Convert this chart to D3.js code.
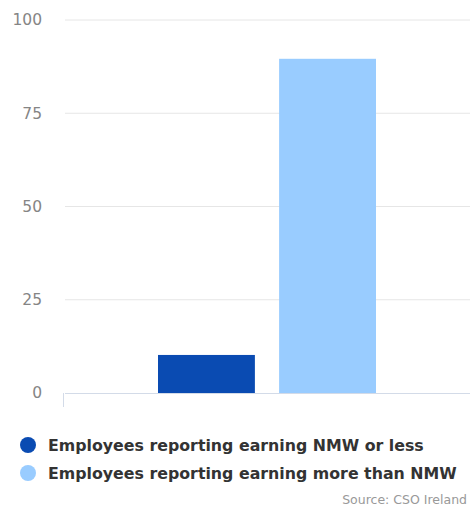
<!DOCTYPE html>
<html lang="en">
<head>
  <meta charset="UTF-8" />
  <title>NMW earnings</title>
  <script src="https://d3js.org/d3.v7.min.js"></script>
  <style>
    body { margin: 0; background: #fff; font-family: "DejaVu Sans", sans-serif; }
    .tick-label { font-size: 15.5px; fill: #858585; }
    .legend text { font-size: 15.8px; font-weight: bold; fill: #333; }
    .source { font-size: 12.5px; fill: #999; }
  </style>
</head>
<body>
  <div id="chart"></div>
  <script>
    const series = ["Employees reporting earning NMW or less", "Employees reporting earning more than NMW"];
    const values = [10.2, 89.6];
    const colors = ["#0a4bb2", "#99ccff"];
    const yTicks = [0, 25, 50, 75, 100];

    const width = 470, height = 513;
    const margin = {top: 20, right: 0, bottom: 120, left: 65};
    const innerWidth = width - margin.left - margin.right;
    const innerHeight = 393 - margin.top;

    const svg = d3.select("#chart").append("svg")
      .attr("width", width)
      .attr("height", height);
    const g = svg.append("g").attr("transform", `translate(${margin.left},${margin.top})`);

    const y = d3.scaleLinear().domain([0, 100]).range([innerHeight, 0]);
    const x = d3.scaleBand().domain(series).range([93, 311]).paddingInner(0.2);

    // gridlines
    g.selectAll(".grid").data(yTicks.filter(d => d > 0)).enter().append("line")
      .attr("x1", 0).attr("x2", innerWidth)
      .attr("y1", d => y(d)).attr("y2", d => y(d))
      .attr("stroke", "#e6e6e6").attr("stroke-width", 1);

    g.selectAll(".tick-label").data(yTicks).enter().append("text")
      .attr("class", "tick-label")
      .attr("x", -23)
      .attr("y", d => y(d))
      .attr("dy", "0.35em")
      .attr("text-anchor", "end")
      .text(d => d);

    // bars
    g.selectAll("rect.bar").data(series).enter().append("rect")
      .attr("class", "bar")
      .attr("x", d => x(d))
      .attr("width", x.bandwidth())
      .attr("y", (d, i) => y(values[i]))
      .attr("height", (d, i) => innerHeight - y(values[i]))
      .attr("fill", (d, i) => colors[i]);

    // x axis line and tick
    g.append("line")
      .attr("x1", 0).attr("x2", innerWidth)
      .attr("y1", innerHeight + 0.5).attr("y2", innerHeight + 0.5)
      .attr("stroke", "#d3dbe8");
    g.append("line")
      .attr("x1", -1.5).attr("x2", -1.5)
      .attr("y1", innerHeight).attr("y2", innerHeight + 14)
      .attr("stroke", "#d3dbe8");

    // legend
    const legend = svg.append("g").attr("class", "legend").attr("transform", "translate(28,445)");
    series.forEach((s, i) => {
      const row = legend.append("g").attr("transform", `translate(0,${i * 28})`);
      row.append("circle").attr("r", 8).attr("fill", colors[i]);
      row.append("text").attr("x", 20).attr("dy", "0.35em").text(s);
    });

    svg.append("text")
      .attr("class", "source")
      .attr("x", 467).attr("y", 500)
      .attr("dy", "0.35em")
      .attr("text-anchor", "end")
      .text("Source: CSO Ireland");
  </script>
</body>
</html>
